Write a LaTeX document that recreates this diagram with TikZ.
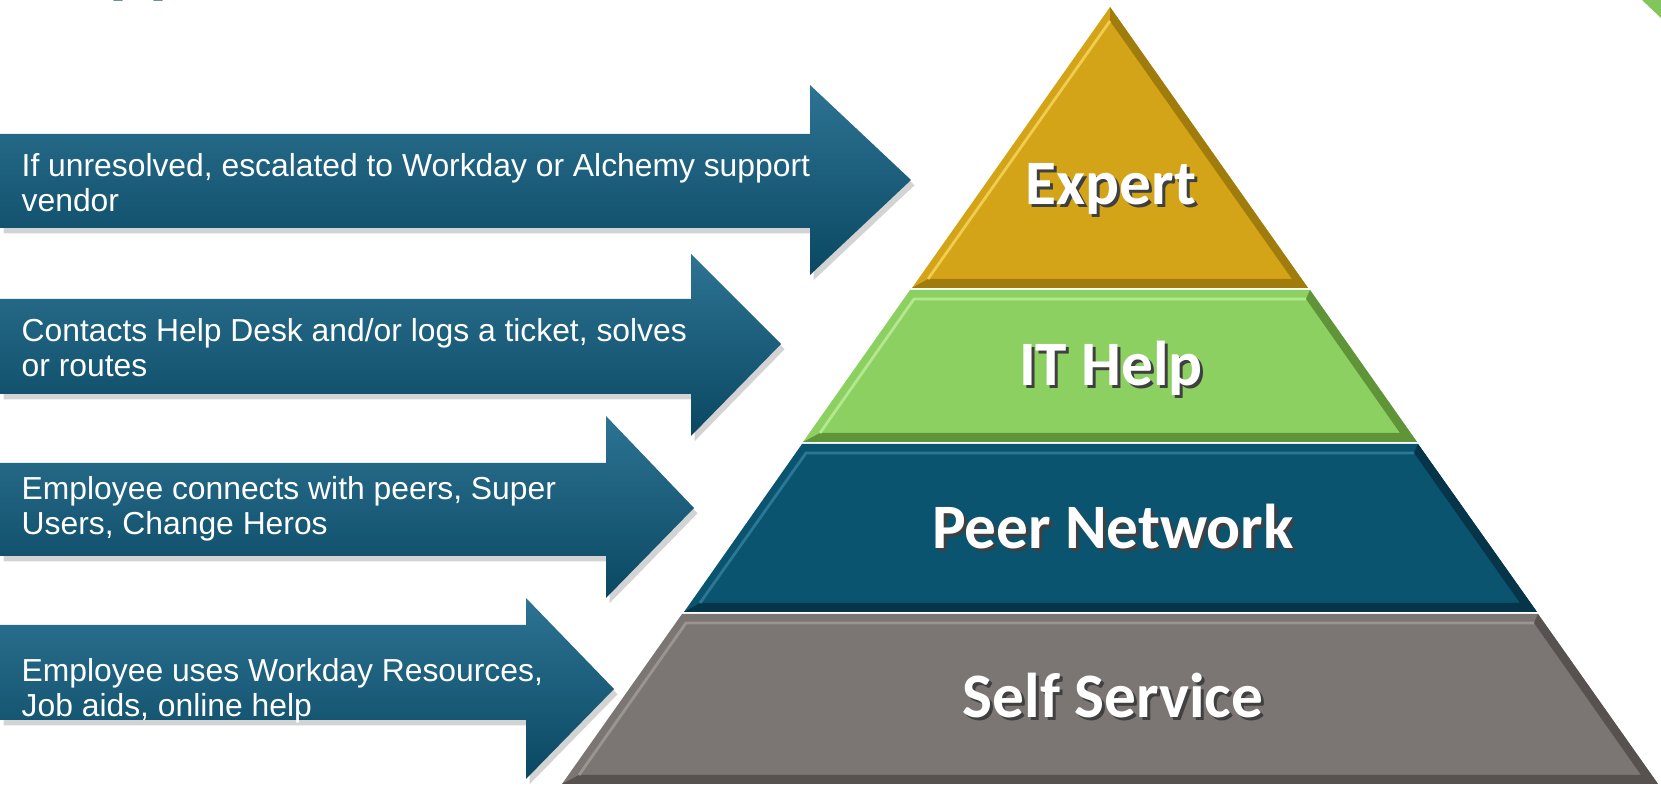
\documentclass[tikz,border=0pt]{standalone}
\usepackage{fontspec}
\setmainfont{Liberation Sans}
\newfontfamily\tierfont{Carlito}
\usetikzlibrary{shadows}

\definecolor{arrowlight}{HTML}{2D7393}
\definecolor{arrowdark}{HTML}{0A4862}
\definecolor{titleteal}{HTML}{0E4C68}
\definecolor{cornergreen}{HTML}{82C55A}
\definecolor{gold}{HTML}{D4A418}
\definecolor{golddark}{HTML}{A07C0C}
\definecolor{goldlight}{HTML}{F0CC50}
\definecolor{leaf}{HTML}{8DD062}
\definecolor{leafdark}{HTML}{5F9438}
\definecolor{leaflight}{HTML}{B4E890}
\definecolor{sea}{HTML}{0B5470}
\definecolor{seadark}{HTML}{063448}
\definecolor{sealight}{HTML}{2A7896}
\definecolor{stone}{HTML}{7B7674}
\definecolor{stonedark}{HTML}{57524F}
\definecolor{stonelight}{HTML}{9A9593}

\begin{document}
\begin{tikzpicture}[x=0.01cm,y=-0.01cm]
        \tikzstyle{every node}=[inner sep=0pt]
        \tikzstyle{arrowbox}=[top color=arrowlight, bottom color=arrowdark, drop shadow={opacity=0.35, shadow xshift=1pt, shadow yshift=-1.5pt}]
        \tikzstyle{arrowtext}=[anchor=west, align=left, text=white, font=\fontsize{9.05}{10}\selectfont]
        \tikzstyle{tierlabel}=[text=white, font=\tierfont\bfseries\fontsize{18}{20}\selectfont]
        \tikzstyle{tiershadow}=[text=black!75, font=\tierfont\bfseries\fontsize{18}{20}\selectfont]

        \useasboundingbox (0,0) rectangle (1661,789);

        % clipped title and corner
        \node[anchor=base west, text=titleteal, font=\tierfont\bfseries\fontsize{21}{24}\selectfont] (title) at (109,-10) {pp};
        \fill[cornergreen] (1642,0) -- (1661,0) -- (1661,18) -- cycle;

        % arrows
        \path[arrowbox] (0,134) -- (810,134) -- (810,85) -- (911,180) -- (810,275) -- (810,228) -- (0,228) -- cycle;
        \path[arrowbox] (0,299) -- (691,299) -- (691,254) -- (781,344) -- (691,436) -- (691,394) -- (0,394) -- cycle;
        \path[arrowbox] (0,463) -- (606,463) -- (606,416) -- (694,508) -- (606,598) -- (606,556) -- (0,556) -- cycle;
        \path[arrowbox] (0,625) -- (526,625) -- (526,598) -- (614,689) -- (526,779) -- (526,720) -- (0,720) -- cycle;

        \node[arrowtext] (escalate) at (21,183) {If unresolved, escalated to Workday or Alchemy support\\vendor};
        \node[arrowtext] (helpdesk) at (21,348) {Contacts Help Desk and/or logs a ticket, solves\\or routes};
        \node[arrowtext] (peers)    at (21,509) {Employee connects with peers, Super\\Users, Change Heros};
        \node[arrowtext] (resources) at (21,691) {Employee uses Workday Resources,\\Job aids, online help};

        % pyramid tiers
        \fill[gold] (912,288) -- (1110,7) -- (1308,288) -- cycle;
        \fill[golddark] (1110,7) -- (1308,288) -- (912,288) -- (928,279) -- (1292,279) -- (1110,21) -- cycle;
        \draw[goldlight, line width=0.8pt] (928,279) -- (1110,21);

        \fill[leaf] (803,442) -- (910,290) -- (1310,290) -- (1417,442) -- cycle;
        \fill[leafdark] (1310,290) -- (1417,442) -- (803,442) -- (820,433) -- (1400,433) -- (1306,299) -- cycle;
        \draw[leaflight, line width=0.8pt] (820,433) -- (914,299) -- (1306,299);

        \fill[sea] (684,612) -- (802,444) -- (1418,444) -- (1537,612) -- cycle;
        \fill[seadark] (1418,444) -- (1537,612) -- (684,612) -- (700,603) -- (1520,603) -- (1414,453) -- cycle;
        \draw[sealight, line width=0.8pt] (700,603) -- (806,453) -- (1414,453);

        \fill[stone] (562,784) -- (682,614) -- (1538,614) -- (1658,784) -- cycle;
        \fill[stonedark] (1538,614) -- (1658,784) -- (562,784) -- (579,775) -- (1641,775) -- (1534,623) -- cycle;
        \draw[stonelight, line width=0.8pt] (579,775) -- (686,623) -- (1534,623);

        % tier labels
        \node[tiershadow] at (1114,192) {Expert};
        \node[tierlabel] (expert) at (1111,189) {Expert};
        \node[tiershadow] at (1114,371) {IT Help};
        \node[tierlabel] (ithelp) at (1111,368) {IT Help};
        \node[tiershadow] at (1116,530) {Peer Network};
        \node[tierlabel] (peernet) at (1113,527) {Peer Network};
        \node[tiershadow] at (1116,699) {Self Service};
        \node[tierlabel] (selfserv) at (1113,696) {Self Service};
\end{tikzpicture}
\end{document}
